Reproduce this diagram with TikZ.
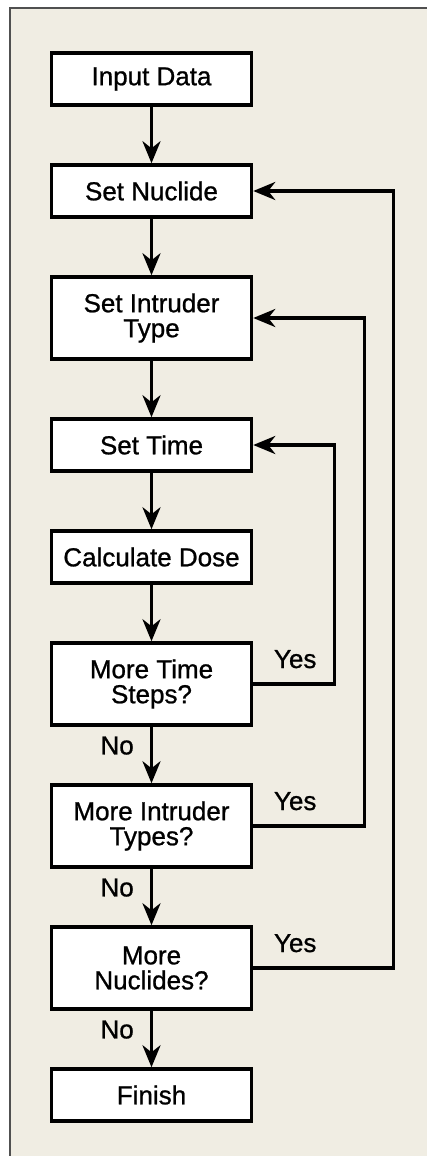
\documentclass[tikz,border=0pt]{standalone}
\usepackage{fontspec}
\setmainfont{Liberation Sans}[FakeBold=0.9]
\usetikzlibrary{positioning}
\usetikzlibrary{arrows.meta}
\definecolor{bgbeige}{HTML}{F0EDE3}
\definecolor{framegray}{HTML}{505050}

\begin{document}
\begin{tikzpicture}
    [x=1pt, y=1pt,
     node distance=56.5pt,
     every node/.style={font=\fontsize{26}{25}\selectfont},
     stepbox/.style={draw, line width=3.5pt, fill=white, align=center,
       minimum width=200pt, minimum height=52pt, inner sep=0pt},
     askbox/.style={stepbox, minimum height=82pt},
     flow/.style={line width=3.5pt, -{Stealth[length=22pt,width=18pt,inset=7pt]}},
     yeslbl/.style={anchor=south west, pos=0, inner sep=0pt, xshift=19pt, yshift=14pt},
     nolbl/.style={anchor=north east, pos=0, inner sep=0pt, xshift=-16pt, yshift=-8pt}]

    \useasboundingbox (0,0) rectangle (427,-1156);
    \fill[white] (0,0) rectangle (427,-1156);
    \draw[fill=bgbeige, draw=framegray, line width=1.5pt] (10,-8) rectangle (450,-1180);

    \node[stepbox] (input) at (151.5,-79) {Input Data};
    \node[stepbox] (nuclide) [below =of input] {Set Nuclide};
    \node[askbox] (intruder) [below =of nuclide] {Set Intruder\\Type};
    \node[stepbox] (settime) [below =of intruder] {Set Time};
    \node[stepbox] (dose) [below =of settime] {Calculate Dose};
    \node[askbox] (moretime) [below =of dose] {More Time\\Steps?};
    \node[askbox] (moreintr) [below =of moretime] {More Intruder\\Types?};
    \node[askbox] (morenucl) [below =of moreintr] {More\\Nuclides?};
    \node[stepbox] (finish) [below =of morenucl] {Finish};

    \draw[flow] (input) -- (nuclide);
    \draw[flow] (nuclide) -- (intruder);
    \draw[flow] (intruder) -- (settime);
    \draw[flow] (settime) -- (dose);
    \draw[flow] (dose) -- (moretime);
    \draw[flow] (moretime) -- node[nolbl] {No} (moreintr);
    \draw[flow] (moreintr) -- node[nolbl] {No} (morenucl);
    \draw[flow] (morenucl) -- node[nolbl] {No} (finish);

    \draw[flow] (moretime.east) -- node[yeslbl] {Yes} ++(81,0) |- (settime.east);
    \draw[flow] (moreintr.east) -- node[yeslbl] {Yes} ++(111,0) |- (intruder.east);
    \draw[flow] (morenucl.east) -- node[yeslbl] {Yes} ++(140,0) |- (nuclide.east);

  \end{tikzpicture}
\end{document}
